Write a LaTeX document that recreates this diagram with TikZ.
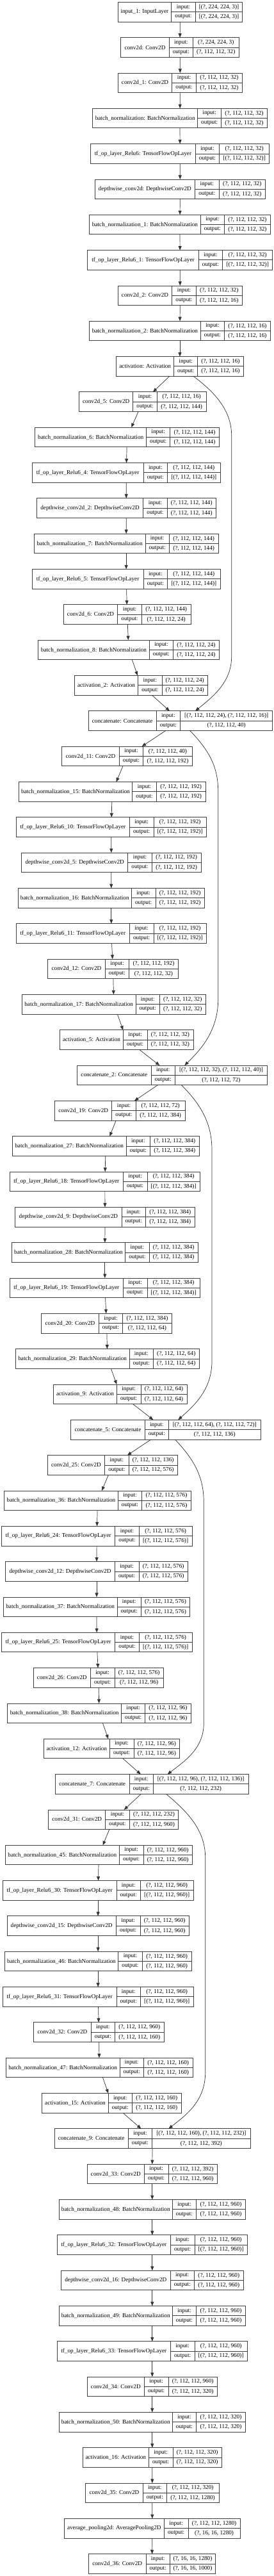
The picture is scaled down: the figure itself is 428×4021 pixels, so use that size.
\documentclass[tikz,border=0pt]{standalone}
\usepackage{fontspec}
\setmainfont{Liberation Serif}
\usetikzlibrary{arrows.meta}
\tikzset{
 box/.style={rectangle, draw=black!75, line width=0.8pt, inner sep=0pt, outer sep=0pt, minimum height=30.6pt},
 cellline/.style={draw=black!75, line width=0.8pt},
 txt/.style={inner sep=0pt, font=\fontsize{9.2}{10}\selectfont, text=black},
 arr/.style={draw=black!80, line width=0.7pt, -{Triangle[length=6.5pt,width=5pt]}},
}
\newcommand\sh[1]{(?, 112, 112, #1)}
\newcommand\lay[8]{%
 \pgfmathsetmacro\Ltop{3.3+(#1-1)*55.325}%
 \pgfmathsetmacro\Lbot{\Ltop+30.6}%
 \pgfmathsetmacro\Lmid{\Ltop+15.3}%
 \node[box, minimum width={(#5-#2)*1pt}, anchor=north west] (n#1) at (#2,\Ltop) {};
 \draw[cellline] (#3,\Ltop) -- (#3,\Lbot) (#4,\Ltop) -- (#4,\Lbot) (#3,\Lmid) -- (#5,\Lmid);
 \node[txt] (n#1l) at ({(#2+#3)/2},\Lmid) {#6};
 \node[txt] (n#1a) at ({(#3+#4)/2},\Ltop+7.65) {input:};
 \node[txt] (n#1b) at ({(#3+#4)/2},\Ltop+22.95) {output:};
 \node[txt] (n#1c) at ({(#4+#5)/2},\Ltop+7.65) {#7};
 \node[txt] (n#1d) at ({(#4+#5)/2},\Ltop+22.95) {#8};
}
\begin{document}
\begin{tikzpicture}[x=1pt,y=-1pt]
\fill[white] (0,0) rectangle (428,4021);
\useasboundingbox (0,0) rectangle (428,4021);
\lay{1}{184}{267.7}{305.3}{378.7}{input\_1: InputLayer}{[(?, 224, 224, 3)]}{[(?, 224, 224, 3)]}
\lay{2}{188.7}{264.3}{301.3}{373.3}{conv2d: Conv2D}{(?, 224, 224, 3)}{\sh{32}}
\lay{3}{184.3}{268.7}{306.3}{378.7}{conv2d\_1: Conv2D}{\sh{32}}{\sh{32}}
\lay{4}{144.7}{308.7}{345.7}{417.3}{batch\_normalization: BatchNormalization}{\sh{32}}{\sh{32}}
\lay{5}{141.7}{305.3}{342.7}{420.7}{tf\_op\_layer\_Relu6: TensorFlowOpLayer}{\sh{32}}{[\sh{32}]}
\lay{6}{148.3}{304.3}{342.3}{414.3}{depthwise\_conv2d: DepthwiseConv2D}{\sh{32}}{\sh{32}}
\lay{7}{139.7}{313.3}{350.7}{422.3}{batch\_normalization\_1: BatchNormalization}{\sh{32}}{\sh{32}}
\lay{8}{136.7}{310.3}{347.7}{425.7}{tf\_op\_layer\_Relu6\_1: TensorFlowOpLayer}{\sh{32}}{[\sh{32}]}
\lay{9}{184.3}{268.7}{306.3}{378.3}{conv2d\_2: Conv2D}{\sh{32}}{\sh{16}}
\lay{10}{139.7}{313.3}{350.7}{422.3}{batch\_normalization\_2: BatchNormalization}{\sh{16}}{\sh{16}}
\lay{11}{181.7}{271.7}{308.7}{380.3}{activation: Activation}{\sh{16}}{\sh{16}}
\lay{12}{123.7}{207.7}{245.3}{322}{conv2d\_5: Conv2D}{\sh{16}}{\sh{144}}
\lay{13}{54.7}{228.7}{265.7}{342.3}{batch\_normalization\_6: BatchNormalization}{\sh{144}}{\sh{144}}
\lay{14}{50.3}{224}{261.7}{344}{tf\_op\_layer\_Relu6\_4: TensorFlowOpLayer}{\sh{144}}{[\sh{144}]}
\lay{15}{57.3}{223.7}{261.3}{337.3}{depthwise\_conv2d\_2: DepthwiseConv2D}{\sh{144}}{\sh{144}}
\lay{16}{53.3}{227}{264.3}{341}{batch\_normalization\_7: BatchNormalization}{\sh{144}}{\sh{144}}
\lay{17}{50.3}{224}{261.7}{344}{tf\_op\_layer\_Relu6\_5: TensorFlowOpLayer}{\sh{144}}{[\sh{144}]}
\lay{18}{99.3}{183.7}{221.3}{298}{conv2d\_6: Conv2D}{\sh{144}}{\sh{24}}
\lay{19}{59.7}{233.3}{270.7}{342.3}{batch\_normalization\_8: BatchNormalization}{\sh{24}}{\sh{24}}
\lay{20}{116.3}{215.7}{253}{324.3}{activation\_2: Activation}{\sh{24}}{\sh{24}}
\lay{21}{138.3}{244}{281.7}{425.7}{concatenate: Concatenate}{[\sh{24}, \sh{16}]}{\sh{40}}
\lay{22}{96.7}{186.3}{223.7}{300.3}{conv2d\_11: Conv2D}{\sh{40}}{\sh{192}}
\lay{23}{29.3}{206.7}{244.3}{321}{batch\_normalization\_15: BatchNormalization}{\sh{192}}{\sh{192}}
\lay{24}{25.3}{202.3}{240}{322.3}{tf\_op\_layer\_Relu6\_10: TensorFlowOpLayer}{\sh{192}}{[\sh{192}]}
\lay{25}{33.7}{199.7}{237.3}{314}{depthwise\_conv2d\_5: DepthwiseConv2D}{\sh{192}}{\sh{192}}
\lay{26}{28.3}{205.3}{243}{319.3}{batch\_normalization\_16: BatchNormalization}{\sh{192}}{\sh{192}}
\lay{27}{25.3}{202.3}{240}{322.3}{tf\_op\_layer\_Relu6\_11: TensorFlowOpLayer}{\sh{192}}{[\sh{192}]}
\lay{28}{74.7}{164.3}{201.7}{278.3}{conv2d\_12: Conv2D}{\sh{192}}{\sh{32}}
\lay{29}{34.3}{212}{249.3}{321.3}{batch\_normalization\_17: BatchNormalization}{\sh{32}}{\sh{32}}
\lay{30}{93.7}{192.3}{230}{302}{activation\_5: Activation}{\sh{32}}{\sh{32}}
\lay{31}{120.3}{236.3}{273.3}{417.7}{concatenate\_2: Concatenate}{[\sh{32}, \sh{40}]}{\sh{72}}
\lay{32}{85.7}{174.7}{212.3}{289}{conv2d\_19: Conv2D}{\sh{72}}{\sh{384}}
\lay{33}{19.3}{197}{234.7}{311}{batch\_normalization\_27: BatchNormalization}{\sh{384}}{\sh{384}}
\lay{34}{15.3}{192.3}{230}{312.3}{tf\_op\_layer\_Relu6\_18: TensorFlowOpLayer}{\sh{384}}{[\sh{384}]}
\lay{35}{23.7}{190}{227.3}{304.3}{depthwise\_conv2d\_9: DepthwiseConv2D}{\sh{384}}{\sh{384}}
\lay{36}{18.3}{195.7}{233}{309.3}{batch\_normalization\_28: BatchNormalization}{\sh{384}}{\sh{384}}
\lay{37}{15.3}{192.3}{230}{312.3}{tf\_op\_layer\_Relu6\_19: TensorFlowOpLayer}{\sh{384}}{[\sh{384}]}
\lay{38}{64.7}{154.3}{191.7}{268.3}{conv2d\_20: Conv2D}{\sh{384}}{\sh{64}}
\lay{39}{24.3}{202}{239.3}{311.3}{batch\_normalization\_29: BatchNormalization}{\sh{64}}{\sh{64}}
\lay{40}{83.7}{182.3}{220}{292}{activation\_9: Activation}{\sh{64}}{\sh{64}}
\lay{41}{110.7}{226.3}{263.3}{407.3}{concatenate\_5: Concatenate}{[\sh{64}, \sh{72}]}{\sh{136}}
\lay{42}{74.3}{163.7}{201}{277.3}{conv2d\_25: Conv2D}{\sh{136}}{\sh{576}}
\lay{43}{6.7}{184.3}{221.7}{298.3}{batch\_normalization\_36: BatchNormalization}{\sh{576}}{\sh{576}}
\lay{44}{2.3}{179.7}{217.3}{300}{tf\_op\_layer\_Relu6\_24: TensorFlowOpLayer}{\sh{576}}{[\sh{576}]}
\lay{45}{8.7}{179.3}{217}{293.3}{depthwise\_conv2d\_12: DepthwiseConv2D}{\sh{576}}{\sh{576}}
\lay{46}{5.3}{183}{220.3}{296.7}{batch\_normalization\_37: BatchNormalization}{\sh{576}}{\sh{576}}
\lay{47}{2.3}{179.7}{217.3}{300}{tf\_op\_layer\_Relu6\_25: TensorFlowOpLayer}{\sh{576}}{[\sh{576}]}
\lay{48}{52.3}{141.3}{179}{255.3}{conv2d\_26: Conv2D}{\sh{576}}{\sh{96}}
\lay{49}{11.7}{189.7}{226.7}{298.3}{batch\_normalization\_38: BatchNormalization}{\sh{96}}{\sh{96}}
\lay{50}{68.3}{171.3}{209}{280.7}{activation\_12: Activation}{\sh{96}}{\sh{96}}
\lay{51}{86.3}{202}{239.3}{388}{concatenate\_7: Concatenate}{[\sh{96}, \sh{136}]}{\sh{232}}
\lay{52}{75.7}{164.7}{202.3}{278.7}{conv2d\_31: Conv2D}{\sh{232}}{\sh{960}}
\lay{53}{8.3}{186.3}{224}{300.3}{batch\_normalization\_45: BatchNormalization}{\sh{960}}{\sh{960}}
\lay{54}{4.3}{182}{219.3}{302}{tf\_op\_layer\_Relu6\_30: TensorFlowOpLayer}{\sh{960}}{[\sh{960}]}
\lay{55}{11}{181.3}{219}{295.3}{depthwise\_conv2d\_15: DepthwiseConv2D}{\sh{960}}{\sh{960}}
\lay{56}{7.3}{184.7}{222.3}{299}{batch\_normalization\_46: BatchNormalization}{\sh{960}}{\sh{960}}
\lay{57}{4.3}{182}{219.3}{302}{tf\_op\_layer\_Relu6\_31: TensorFlowOpLayer}{\sh{960}}{[\sh{960}]}
\lay{58}{52.7}{142.3}{179.3}{256.3}{conv2d\_32: Conv2D}{\sh{960}}{\sh{160}}
\lay{59}{9.3}{187}{224.3}{301}{batch\_normalization\_47: BatchNormalization}{\sh{160}}{\sh{160}}
\lay{60}{65.7}{169.3}{206.3}{283.3}{activation\_15: Activation}{\sh{160}}{\sh{160}}
\lay{61}{85}{200.3}{237.7}{391}{concatenate\_9: Concatenate}{[\sh{160}, \sh{232}]}{\sh{392}}
\lay{62}{136.3}{225.3}{263}{339.3}{conv2d\_33: Conv2D}{\sh{392}}{\sh{960}}
\lay{63}{92.3}{269.3}{306.7}{383.3}{batch\_normalization\_48: BatchNormalization}{\sh{960}}{\sh{960}}
\lay{64}{89.3}{266.3}{304}{386.3}{tf\_op\_layer\_Relu6\_32: TensorFlowOpLayer}{\sh{960}}{[\sh{960}]}
\lay{65}{95.3}{266.3}{303.3}{380.3}{depthwise\_conv2d\_16: DepthwiseConv2D}{\sh{960}}{\sh{960}}
\lay{66}{92.3}{269.3}{306.7}{383.3}{batch\_normalization\_49: BatchNormalization}{\sh{960}}{\sh{960}}
\lay{67}{89.3}{266.3}{304}{386.3}{tf\_op\_layer\_Relu6\_33: TensorFlowOpLayer}{\sh{960}}{[\sh{960}]}
\lay{68}{136.3}{225.3}{263}{339.3}{conv2d\_34: Conv2D}{\sh{960}}{\sh{320}}
\lay{69}{92.3}{269.3}{306.7}{383.3}{batch\_normalization\_50: BatchNormalization}{\sh{320}}{\sh{320}}
\lay{70}{129.3}{232.3}{270}{346.3}{activation\_16: Activation}{\sh{320}}{\sh{320}}
\lay{71}{133.7}{223.3}{260.3}{342}{conv2d\_35: Conv2D}{\sh{320}}{\sh{1280}}
\lay{72}{100.3}{256.3}{294}{375.3}{average\_pooling2d: AveragePooling2D}{\sh{1280}}{(?, 16, 16, 1280)}
\lay{73}{138.3}{228}{265.3}{336.7}{conv2d\_36: Conv2D}{(?, 16, 16, 1280)}{(?, 16, 16, 1000)}
% sequential connectors
\foreach \i in {1,...,72}{\pgfmathtruncatemacro\nxt{\i+1}\draw[arr] (n\i) -- (n\nxt);}
% skip connectors
\draw[arr] ([xshift=21pt]n11.south) .. controls (335,612) and (361.7,640) .. (361.7,680)
  -- (361.7,1025) .. controls (361.7,1065) and (332,1088) .. ([xshift=23pt]n21.north);
\draw[arr] ([xshift=14.7pt]n21.south) .. controls (325,1170) and (340.7,1195) .. (340.7,1235)
  -- (340.7,1560) .. controls (340.7,1610) and (312,1640) .. ([xshift=19.3pt]n31.north);
\draw[arr] ([xshift=14.3pt]n31.south) .. controls (315,1725) and (331,1755) .. (331,1795)
  -- (331,2125) .. controls (331,2170) and (302,2195) .. ([xshift=19.3pt]n41.north);
\draw[arr] ([xshift=14.3pt]n41.south) .. controls (303,2278) and (318.3,2305) .. (318.3,2345)
  -- (318.3,2690) .. controls (318.3,2730) and (287,2750) .. ([xshift=24.5pt]n51.north);
\draw[arr] ([xshift=22.1pt]n51.south) .. controls (298,2832) and (320.7,2860) .. (320.7,2900)
  -- (320.7,3235) .. controls (320.7,3280) and (290,3302) .. ([xshift=25.3pt]n61.north);
\end{tikzpicture}
\end{document}
